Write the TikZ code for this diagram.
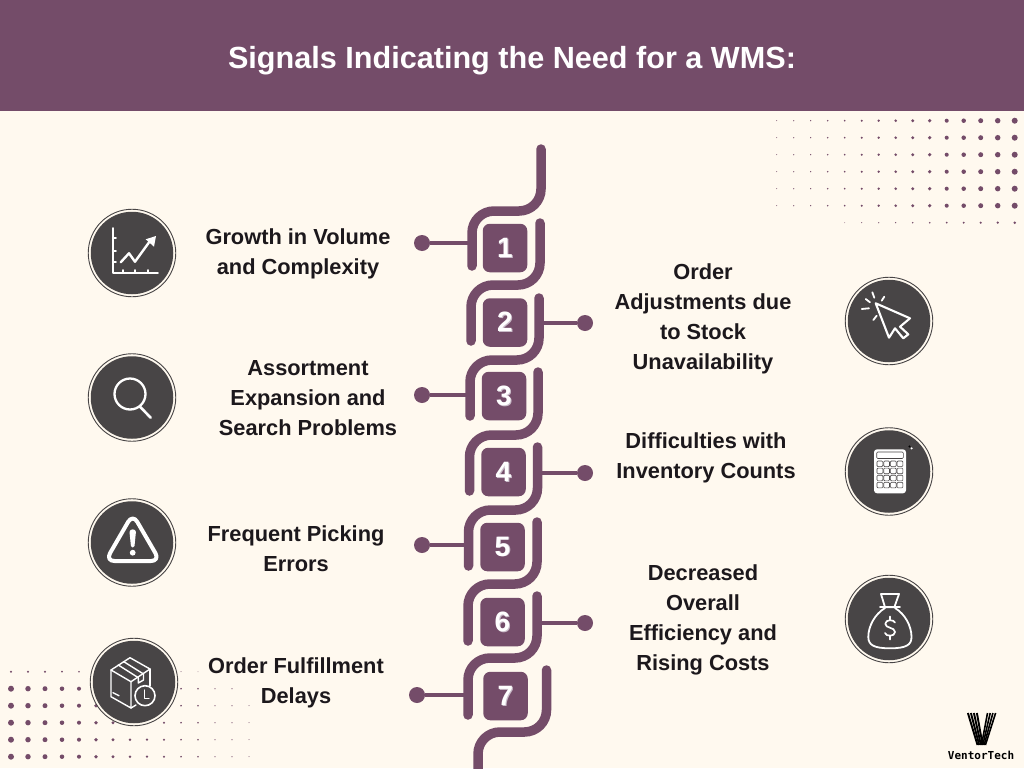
\documentclass[tikz,border=0pt]{standalone}
\usepackage{fontspec}
\setmainfont{Liberation Sans}
\newfontfamily\logofont{DejaVu Sans Mono}
\definecolor{bgc}{HTML}{FFF9EF}
\definecolor{plum}{HTML}{744C69}
\definecolor{darkc}{HTML}{484546}
\definecolor{inkc}{HTML}{1C181C}
\definecolor{numshadow}{HTML}{C9BBC8}
\newcommand{\numtxt}[1]{\makebox[0pt][l]{\raisebox{-0.9pt}{\hspace{0.9pt}\textcolor{numshadow}{#1}}}#1}
\tikzset{
  serp/.style={draw=plum,line width=9.5pt,line cap=round,rounded corners=22pt},
  numbox/.style={fill=plum,rounded corners=7pt,minimum width=44.5pt,minimum height=48.5pt,inner sep=0pt,text=white,font=\fontsize{28}{28}\selectfont\bfseries},
  enddot/.style={circle,fill=plum,minimum size=16pt,inner sep=0pt},
  conn/.style={draw=plum,line width=3.2pt},
  lab/.style={align=center,inner sep=0pt,text=inkc,font=\fontsize{21.8}{30}\selectfont\bfseries},
  ring/.style={circle,draw=darkc,line width=0.9pt,fill=bgc,minimum size=87.5pt,inner sep=0pt},
  disc/.style={circle,fill=darkc,minimum size=82.5pt,inner sep=0pt},
  ico/.style={draw=white,line width=2pt,line join=round,line cap=round},
  dotc/.style={fill=plum},
  key/.style={draw=darkc,fill=white,line width=0.6pt,rounded corners=1pt},
  logo/.style={draw=black,line width=1.9pt}
}
\begin{document}
\begin{tikzpicture}[x=1pt,y=-1pt]
\useasboundingbox (0,0) rectangle (1024,768);
\fill[bgc] (0,0) rectangle (1024,768);
\fill[plum] (0,0) rectangle (1024,111);
\node[text=white,font=\fontsize{30.6}{31}\selectfont\bfseries,inner sep=0pt] (title) at (512,60.5) {Signals Indicating the Need for a WMS:};
% dot fields
\foreach \k in {0,...,14}{
  \pgfmathsetmacro{\t}{\k/14}
  \pgfmathsetmacro{\r}{0.5+2.5*(0.5*\t+0.5*\t*\t)}
  \foreach \j in {0,...,5}{
    \fill[dotc] ({776.7+17*\k},{120.7+17*\j}) circle (\r pt);
  }
}
\foreach \k in {4,...,14}{
  \pgfmathsetmacro{\r}{0.45+0.09*(\k-4)}
  \fill[dotc] ({776.7+17*\k},222.7) circle (\r pt);
}
\foreach \k in {0,...,14}{
  \pgfmathsetmacro{\t}{(14-\k)/14}
  \pgfmathsetmacro{\r}{0.5+2.5*(0.5*\t+0.5*\t*\t)}
  \foreach \j in {2,...,5}{
    \fill[dotc] ({11+17*\k},{671.7+17*\j}) circle (\r pt);
  }
}
\foreach \k in {0,...,13}{
  \pgfmathsetmacro{\t}{(14-\k)/14}
  \pgfmathsetmacro{\r}{0.5+2.5*(0.5*\t+0.5*\t*\t)}
  \fill[dotc] ({11+17*\k},688.7) circle (\r pt);
}
\foreach \k in {0,...,11}{
  \pgfmathsetmacro{\r}{1.2-0.07*\k}
  \fill[dotc] ({11+17*\k},671.7) circle (\r pt);
}
% serpentine
\draw[serp] (541,149) -- (541,211) -- (472,211) -- (472,266);
\draw[serp] (540,223) -- (540,285) -- (471,285) -- (471,341);
\draw[serp] (539,298) -- (539,360) -- (470,360) -- (470,416);
\draw[serp] (538,372) -- (538,435) -- (469.5,435) -- (469.5,491);
\draw[serp] (537.5,447) -- (537.5,510) -- (468.5,510) -- (468.5,566);
\draw[serp] (537,522) -- (537,584) -- (468,584) -- (468,641);
\draw[serp] (537,596) -- (537,658) -- (468,658) -- (468,715);
\draw[serp] (546.5,670) -- (546.5,732) -- (478,732) -- (478,775);
% numbered boxes
\node[numbox] (n1) at (505,248) {\numtxt{1}};
\node[numbox] (n2) at (505,322.5) {\raisebox{-1.5pt}{\numtxt{2}}};
\node[numbox] (n3) at (504,396) {\numtxt{3}};
\node[numbox] (n4) at (503.5,472) {\numtxt{4}};
\node[numbox] (n5) at (502.5,547) {\numtxt{5}};
\node[numbox] (n6) at (502.5,622) {\raisebox{-1pt}{\numtxt{6}}};
\node[numbox] (n7) at (505.5,696) {\raisebox{-1pt}{\numtxt{7}}};
% connectors
\node[enddot] (d1) at (422,243) {};
\node[enddot] (d2) at (585,323) {};
\node[enddot] (d3) at (422,395) {};
\node[enddot] (d4) at (585,473) {};
\node[enddot] (d5) at (422,545) {};
\node[enddot] (d6) at (585,623) {};
\node[enddot] (d7) at (417,695) {};
\coordinate (c1) at (472,243);
\coordinate (c2) at (540,323);
\coordinate (c3) at (470,395);
\coordinate (c4) at (538,473);
\coordinate (c5) at (468.5,545);
\coordinate (c6) at (537,623);
\coordinate (c7) at (468,695);
\foreach \i in {1,...,7}{\draw[conn] (d\i) -- (c\i);}
% labels
\node[lab] (t1) at (298,254) {Growth in Volume\\and Complexity};
\node[lab] (t2) at (703,319) {Order\\Adjustments due\\to Stock\\Unavailability};
\node[lab] (t3) at (308,398) {Assortment\\Expansion and\\Search Problems};
\node[lab] (t4) at (706,458) {Difficulties with\\Inventory Counts};
\node[lab] (t5) at (296,549) {Frequent Picking\\Errors};
\node[lab] (t6) at (703,620) {Decreased\\Overall\\Efficiency and\\Rising Costs};
\node[lab] (t7) at (296,683) {Order Fulfillment\\Delays};
% icon discs
\foreach \n/\x/\y in {a/132/253,b/132/397.5,c/132/542.5,d/134/682,e/889/321,f/889/471.5,g/889/619}{
  \node[ring] (r\n) at (\x,\y) {};
  \node[disc] (i\n) at (\x,\y) {};
}
% chart
\draw[ico,line width=1.8pt] (112.7,228) -- (112.7,273) -- (158,273);
\draw[ico,line width=1.8pt] (112.7,238) -- (116,238) (112.7,251) -- (116,251) (112.7,262) -- (116,262);
\draw[ico,line width=1.8pt] (123,273) -- (123,270) (135,273) -- (135,270) (148,273) -- (148,270);
\draw[ico,line width=2.4pt] (120.7,262.3) -- (129,253.3) -- (135,261.7) -- (150,241);
\fill[white] (156,236) -- (145.7,239.3) -- (154,246.7) -- cycle;
% search
\draw[ico,line width=2.3pt] (130,394) circle (15.5pt);
\draw[ico,line width=2.6pt] (140,406.7) -- (150.7,417.7);
% warning
\draw[ico,line width=4pt,rounded corners=9pt] (132.7,514) -- (105.5,561) -- (160,561) -- cycle;
\fill[white] (129.5,532) .. controls (129.5,528.5) and (135.9,528.5) .. (135.9,532) -- (134.5,546) .. controls (134.2,548) and (131.2,548) .. (130.9,546) -- cycle;
\fill[white] (132.7,552.7) circle (2.9pt);
% box
\draw[ico,line width=1.4pt] (130,657.7) -- (111,670) -- (131,681.7) -- (150,669) -- cycle;
\draw[ico,line width=1.4pt] (111,670) -- (111,696.7) -- (131,708) -- (131,681.7);
\draw[ico,line width=1.4pt] (150,669) -- (150,686);
\draw[ico,line width=1.4pt] (131,708) -- (136,705);
\draw[ico,line width=1.4pt] (118.3,665) -- (138.3,677.7);
\draw[ico,line width=1.4pt] (123.5,661.5) -- (143.5,674) -- (143.5,680) -- (138.3,683) -- (138.3,677.7);
\draw[ico,line width=1.4pt] (113,692.7) -- (119,695.7);
\draw[ico,line width=1.6pt,fill=darkc] (145,695.7) circle (10pt);
\draw[ico,line width=1.4pt] (144.5,690) -- (144.5,698.5) -- (149,698.5);
% cursor
\draw[ico,line width=2.1pt] (875.7,303.3) -- (910,318.3) -- (900,326.7) -- (908.3,334.3) -- (903.3,338.3) -- (895,328.3) -- (889,337.7) -- cycle;
\draw[ico,line width=1.8pt] (861.7,309) -- (869,308.3) (865.7,299) -- (870,302.3) (872.3,292.3) -- (874.3,297.7) (884.3,296.7) -- (881.7,300.7) (873.3,320) -- (876.7,315.7);
% calculator
\fill[white,rounded corners=3pt] (874,449.3) rectangle (906,493.3);
\draw[key] (876.7,452) rectangle (903.3,458.5);
\foreach \c in {0,1,2,3}{
  \foreach \w in {0,1,2,3}{
    \draw[key] ({877+6.7*\c},{461+7.1*\w}) rectangle ++(5.8,5.6);
  }
}
\fill[black] (909.5,446.5) circle (1.2pt);
\fill[white] (911.6,448.4) circle (1.2pt);
% money bag
\draw[ico,line width=1.8pt] (881,594) -- (899,594) -- (894.3,607.3) -- (885,607.3) -- cycle;
\draw[ico,line width=1.8pt] (880,607.3) -- (900,607.3);
\draw[ico,line width=1.8pt] (885,608) .. controls (875,614) and (868.3,626) .. (868.3,637) .. controls (868.3,645) and (874,648.3) .. (890,648.3) .. controls (906,648.3) and (911.5,645) .. (911.5,637) .. controls (911.5,626) and (905,614) .. (895,608);
\draw[ico,line width=1.7pt] (895,622.5) .. controls (894,619.5) and (885.5,619) .. (885.3,623.8) .. controls (885.2,628.5) and (895,627) .. (895,632) .. controls (895,637) and (885.5,636.5) .. (885,633);
\draw[ico,line width=1.7pt] (890,616.5) -- (890,620) (890,636) -- (890,639.5);
% logo
\foreach \a/\b in {967.9/977.5,970.9/979.2,973.9/980.9,976.9/982.6}{\draw[logo] (\a,713) -- (\b,745);}
\foreach \a/\b in {987.5/981.5,990.2/982.8,992.9/984.1,995.6/985.4}{\draw[logo,line width=1.6pt] (\a,713) -- (\b,745);}
\node[inner sep=0pt,text=black,font=\logofont\fontsize{11}{11}\selectfont\bfseries] (brand) at (981,755) {VentorTech};
\end{tikzpicture}
\end{document}
